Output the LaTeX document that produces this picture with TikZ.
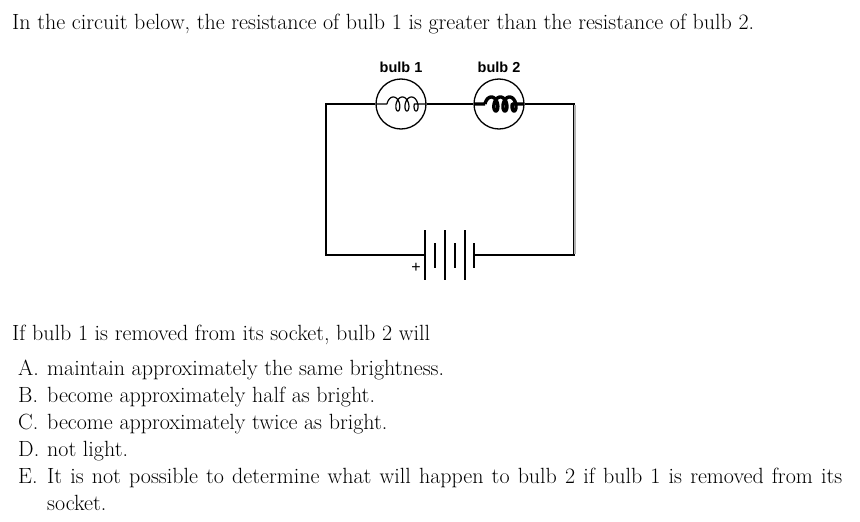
\documentclass[tikz,border=0pt]{standalone}
\usepackage{fontspec}
\newfontfamily\lab{Liberation Sans}
\begin{document}
\begin{tikzpicture}[x=1pt,y=-1pt,
  txt/.style={anchor=base west,inner sep=0pt,font=\fontsize{22}{27}\selectfont},
  lbl/.style={inner sep=0pt,font=\lab\bfseries\fontsize{14.5}{16}\selectfont},
  wire/.style={line width=1.3pt},
  bulbc/.style={circle,draw,line width=1.3pt,minimum size=50pt,inner sep=0pt}]
\useasboundingbox (0,0) rectangle (860,522);
\node[txt] (t1) at (12,30) {In the circuit below, the resistance of bulb 1 is greater than the resistance of bulb 2.};
% bulbs
\node[bulbc] (b1) at (401,104) {};
\node[bulbc] (b2) at (499,104) {};
\node[lbl] (l1) at (401,67) {bulb 1};
\node[lbl] (l2) at (499,67) {bulb 2};
\foreach \c/\w in {b1/1.2pt,b2/3.4pt}{
  \begin{scope}[shift={(\c.center)}]
  \draw[line width=\w,line join=round] (-25,0) -- (-14,0)
    plot[domain=90:1170,samples=150,smooth] ({-14+1.45*(\x-90)*pi/180 - 4*sin(\x)+4},{7*cos(\x)}) -- (25,0);
  \end{scope}}
% corners
\coordinate (tl) at (326,104);
\coordinate (tr) at (574,104);
\coordinate (bl) at (326,255);
\coordinate (br) at (574,255);
\coordinate (bp) at (425,255);
\coordinate (bn) at (474,255);
\draw[wire] (b1.west) -- (tl) -- (bl) -- (bp);
\draw[wire] (b1.east) -- (b2.west);
\draw[wire] (b2.east) -- (tr) -- (br) -- (bn);
\draw[line width=1.6pt,gray!60] (575,105) -- (575,254);
% battery
\foreach \x in {425,445,465}{\draw[line width=1.3pt] (\x,230) -- (\x,280);}
\foreach \x in {435,455,474}{\draw[line width=1.3pt] (\x,243) -- (\x,268);}
\node[inner sep=0pt,font=\lab\fontsize{16}{16}\selectfont] (plus) at (416,268) {+};
% question
\node[txt] (q) at (12,340) {If bulb 1 is removed from its socket, bulb 2 will};
\node[txt] (a) at (18,375) {A.};\node[txt] (at) at (47,375) {maintain approximately the same brightness.};
\node[txt] (b) at (18,402) {B.};\node[txt] (bt) at (47,402) {become approximately half as bright.};
\node[txt] (c) at (18,429) {C.};\node[txt] (ct) at (47,429) {become approximately twice as bright.};
\node[txt] (d) at (18,456) {D.};\node[txt] (dt) at (47,456) {not light.};
\node[txt] (e) at (18,483) {E.};
\node[txt,anchor=base west,text width=795pt,align=justify] (et) at (47,483) {It is not possible to determine what will happen to bulb 2 if bulb 1 is removed from its socket.};
\end{tikzpicture}
\end{document}
